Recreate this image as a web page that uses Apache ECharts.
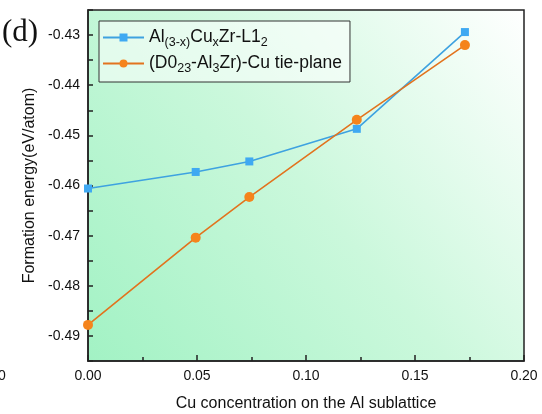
<!DOCTYPE html>
<html><head><meta charset="utf-8">
<script src="https://cdn.jsdelivr.net/npm/echarts@6/dist/echarts.min.js"></script>
<style>html,body{margin:0;padding:0;background:#fff}#c{width:542px;height:414px}</style>
</head><body><div id="c"></div>
<script>
var xL12 = [0.0, 0.0494, 0.074, 0.1233, 0.1729];
var yL12 = [-0.4606, -0.4573, -0.4552, -0.4487, -0.4294];
var xTie = [0.0, 0.0494, 0.074, 0.1233, 0.1729];
var yTie = [-0.4878, -0.4704, -0.4623, -0.4469, -0.4320];
var seriesNames = ['Al(3-x)CuxZr-L12', '(D023-Al3Zr)-Cu tie-plane'];
var xTitle = 'Cu concentration on the Al sublattice';
var yTitle = 'Formation energy(eV/atom)';

function pairs(xs, ys){ return xs.map(function(x,i){return [x, ys[i]];}); }
var font = 'Liberation Sans, Arial, sans-serif';
var chart = echarts.init(document.getElementById('c'), null, {renderer:'canvas'});
chart.setOption({
  animation:false,
  backgroundColor:'#fff',
  grid:{left:88,right:18,top:10,bottom:53,show:true,borderColor:'#222',borderWidth:1.5,
    outerBoundsMode:'none',containLabel:false,
    backgroundColor:{type:'linear',x:0,y:1,x2:1,y2:0,colorStops:[
      {offset:0,color:'#a2f2c4'},{offset:0.5,color:'#cbf8dc'},{offset:1,color:'#ffffff'}]}},
  legend:{
    orient:'vertical',left:99,top:21,
    data:seriesNames,
    backgroundColor:'rgba(255,255,255,0.55)',borderColor:'#333',borderWidth:1,
    padding:[5,8,7,3],itemGap:3,itemWidth:41,itemHeight:10,
    formatter:function(n){
      if(n===seriesNames[0]) return '{n|Al}{s|(3-x)}{n|Cu}{s|x}{n|Zr-L1}{s|2}';
      return '{n|(D0}{s|23}{n|-Al}{s|3}{n|Zr)-Cu tie-plane}';
    },
    textStyle:{color:'#111',fontFamily:font,rich:{
      n:{fontSize:17.5,fontFamily:font,color:'#111',lineHeight:22},
      s:{fontSize:12.5,fontFamily:font,color:'#111',padding:[10,0,0,0],lineHeight:13}
    }}
  },
  xAxis:{type:'value',min:0,max:0.2,interval:0.05,
    name:xTitle,nameLocation:'middle',nameGap:35,
    nameTextStyle:{fontSize:16,fontFamily:font,color:'#111'},
    axisLine:{lineStyle:{color:'#222',width:1.5}},
    axisTick:{inside:true,length:6,lineStyle:{color:'#222',width:1.5}},
    minorTick:{show:true,splitNumber:2,length:4,lineStyle:{color:'#222',width:1.5}},
    splitLine:{show:false},
    axisLabel:{fontSize:14,fontFamily:font,color:'#111',margin:8,formatter:function(v){return v.toFixed(2);}}
  },
  yAxis:{type:'value',min:-0.495,max:-0.425,interval:0.005,
    name:yTitle,nameLocation:'middle',nameGap:47,
    nameTextStyle:{fontSize:16,fontFamily:font,color:'#111'},
    axisLine:{lineStyle:{color:'#222',width:1.5}},
    axisTick:{inside:true,length:5,lineStyle:{color:'#222',width:1.5}},
    splitLine:{show:false},
    axisLabel:{fontSize:14,fontFamily:font,color:'#111',margin:8,
      formatter:function(v){var k=Math.round(Math.abs(v)*1000);return (k%10===0)?v.toFixed(2):'';}}
  },
  series:[
    {name:seriesNames[0],type:'line',data:pairs(xL12,yL12),symbol:'rect',symbolSize:8,
      lineStyle:{color:'#3ea2e0',width:1.6},itemStyle:{color:'#3fa9f2'},color:'#3fa9f2'},
    {name:seriesNames[1],type:'line',data:pairs(xTie,yTie),symbol:'circle',symbolSize:10,
      lineStyle:{color:'#e2731e',width:1.6},itemStyle:{color:'#f5841c'},color:'#f5841c'}
  ],
  graphic:[
    {type:'text',left:2,top:17,style:{text:'(d)',font:'31px "Liberation Serif", "Times New Roman", serif',fill:'#111'}},
    {type:'text',left:-2,top:369,style:{text:'0',font:'14px "Liberation Sans", Arial, sans-serif',fill:'#111'}}
  ]
});
</script></body></html>
